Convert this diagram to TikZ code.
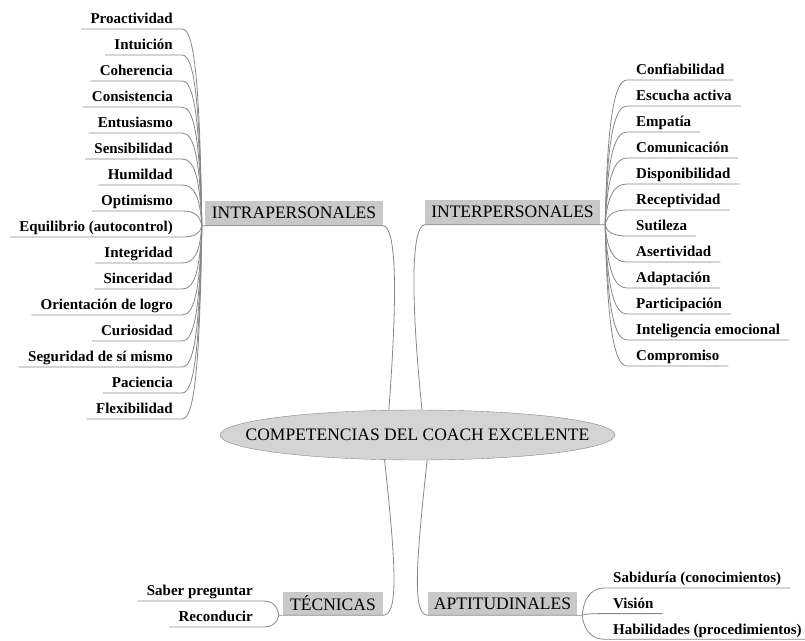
\documentclass[tikz,border=0pt]{standalone}
\usepackage{fontspec}
\setmainfont{Liberation Serif}
\usepackage{tikz}
\usetikzlibrary{calc,shapes.geometric}
\definecolor{mmline}{RGB}{135,135,135}
\definecolor{mmbox}{RGB}{200,200,200}
\definecolor{mmcore}{RGB}{212,212,212}

\begin{document}
\begin{tikzpicture}[x=1pt,y=1pt,
    core/.style={draw=mmline,fill=mmcore,ellipse,inner sep=0pt,minimum width=395pt,minimum height=50pt},
    title/.style={font=\fontsize{17.5}{20}\selectfont},
    branch/.style={fill=mmbox,inner sep=0pt,minimum height=25pt,font=\fontsize{17.5}{20}\selectfont},
    leaf/.style={font=\fontsize{15}{17}\bfseries\selectfont,inner xsep=9pt,inner ysep=5pt,text depth=0pt},
    link/.style={draw=mmline,line width=0.8pt}]
        \useasboundingbox (0,0) rectangle (805,-640);
        % centre
        \node[core] (core) at (417.5,-435) {};
        \node[title] (coretext) at (core) {COMPETENCIAS DEL COACH EXCELENTE};
        % main branches
        \node[branch,minimum width=178pt] (intra) at (294,-213) {INTRAPERSONALES};
        \node[branch,minimum width=175pt] (inter) at (512.5,-212) {INTERPERSONALES};
        \node[branch,minimum width=100pt,minimum height=23pt] (tec) at (333,-603.5) {TÉCNICAS};
        \node[branch,minimum width=149pt,minimum height=23pt] (apt) at (502.5,-603.5) {APTITUDINALES};
        \coordinate (intrahub) at ($(intra.south west)+(-3,0)$);
        \coordinate (interhub) at ($(inter.south east)+(5,0)$);
        \coordinate (techub) at ($(tec.south west)+(-4,0)$);
        \coordinate (apthub) at ($(apt.south east)+(5,0)$);
        \draw[link] (core.139) .. controls +(9,120) and +(13,-2) .. (intra.south east) -- (intrahub);
        \draw[link] (core.80) .. controls +(-12,120) and +(-13,-2) .. (inter.south west) -- (interhub);
        \draw[link] (core.217) .. controls +(12,-110) and +(15,0) .. (tec.south east) -- (techub);
        \draw[link] (core.291) .. controls +(-12,-110) and +(-15,0) .. (apt.south west) -- (apthub);
        % intrapersonales
        \foreach \txt [count=\i from 0] in {Proactividad,Intuición,Coherencia,Consistencia,Entusiasmo,Sensibilidad,Humildad,Optimismo,Equilibrio (autocontrol),Integridad,Sinceridad,Orientación de logro,Curiosidad,Seguridad de sí mismo,Paciencia,Flexibilidad} {
          \node[leaf,anchor=south east] (ia\i) at (182,{-29-26*\i}) {\txt};
          \draw[link] (intrahub) .. controls +(-2,{0.75*(196.5-26*\i)}) and +(12,0) .. (ia\i.south east) -- (ia\i.south west);
        }
        % interpersonales
        \foreach \txt [count=\i from 0] in {Confiabilidad,Escucha activa,Empatía,Comunicación,Disponibilidad,Receptividad,Sutileza,Asertividad,Adaptación,Participación,Inteligencia emocional,Compromiso} {
          \node[leaf,anchor=south west] (ie\i) at (627,{-80-26*\i}) {\txt};
          \draw[link] (interhub) .. controls +(2,{0.75*(144.5-26*\i)}) and +(-12,0) .. (ie\i.south west) -- (ie\i.south east);
        }
        % tecnicas
        \foreach \txt [count=\i from 0] in {Saber preguntar,Reconducir} {
          \node[leaf,anchor=south east] (tc\i) at (262,{-601-26*\i}) {\txt};
          \draw[link] (techub) .. controls +(-2,{0.75*(14.5-26*\i)}) and +(10,0) .. (tc\i.south east) -- (tc\i.south west);
        }
        % aptitudinales
        \foreach \txt [count=\i from 0] in {Sabiduría (conocimientos),Visión,Habilidades (procedimientos)} {
          \node[leaf,anchor=south west] (ap\i) at (604,{-588-25.6*\i}) {\txt};
          \draw[link] (apthub) .. controls +(2,{0.75*(27.5-25.6*\i)}) and +(-10,0) .. (ap\i.south west) -- (ap\i.south east);
        }
      \end{tikzpicture}
\end{document}
